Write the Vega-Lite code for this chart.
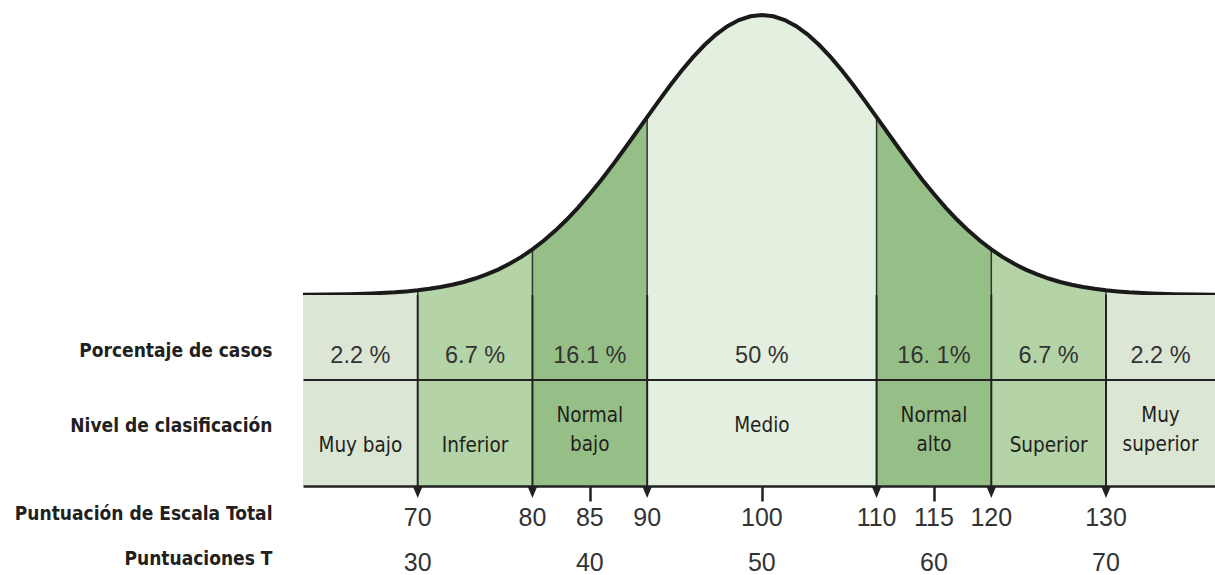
{
  "$schema": "https://vega.github.io/schema/vega-lite/v6.json",
  "background": "white",
  "padding": {"left": 14, "top": 7, "right": 0, "bottom": 0},
  "autosize": {"type": "pad"},
  "spacing": 0,
  "bounds": "flush",
  "config": {"view": {"stroke": null}, "axis": {"grid": false}},
  "datasets": {
    "curve": [
      {"band": "Muy bajo", "x": 60, "h": 0.0007}, {"band": "Muy bajo", "x": 62, "h": 0.0014}, {"band": "Muy bajo", "x": 64, "h": 0.0028}, {"band": "Muy bajo", "x": 66, "h": 0.0053}, {"band": "Muy bajo", "x": 68, "h": 0.0096}, {"band": "Muy bajo", "x": 69, "h": 0.0128}, {"band": "Muy bajo", "x": 70, "h": 0.0169},
      {"band": "Inferior", "x": 70, "h": 0.0169}, {"band": "Inferior", "x": 71, "h": 0.0221}, {"band": "Inferior", "x": 72, "h": 0.0286}, {"band": "Inferior", "x": 73, "h": 0.0367}, {"band": "Inferior", "x": 74, "h": 0.0466}, {"band": "Inferior", "x": 75, "h": 0.0588}, {"band": "Inferior", "x": 76, "h": 0.0734}, {"band": "Inferior", "x": 77, "h": 0.0908}, {"band": "Inferior", "x": 78, "h": 0.1114}, {"band": "Inferior", "x": 79, "h": 0.1353}, {"band": "Inferior", "x": 80, "h": 0.1630},
      {"band": "Normal bajo", "x": 80, "h": 0.1630}, {"band": "Normal bajo", "x": 81, "h": 0.1945}, {"band": "Normal bajo", "x": 82, "h": 0.2301}, {"band": "Normal bajo", "x": 83, "h": 0.2696}, {"band": "Normal bajo", "x": 84, "h": 0.3132}, {"band": "Normal bajo", "x": 85, "h": 0.3604}, {"band": "Normal bajo", "x": 86, "h": 0.4111}, {"band": "Normal bajo", "x": 87, "h": 0.4647}, {"band": "Normal bajo", "x": 88, "h": 0.5204}, {"band": "Normal bajo", "x": 89, "h": 0.5777}, {"band": "Normal bajo", "x": 90, "h": 0.6354},
      {"band": "Medio", "x": 90, "h": 0.6354}, {"band": "Medio", "x": 91, "h": 0.6926}, {"band": "Medio", "x": 92, "h": 0.7481}, {"band": "Medio", "x": 93, "h": 0.8007}, {"band": "Medio", "x": 94, "h": 0.8494}, {"band": "Medio", "x": 95, "h": 0.8928}, {"band": "Medio", "x": 96, "h": 0.9300}, {"band": "Medio", "x": 97, "h": 0.9600}, {"band": "Medio", "x": 98, "h": 0.9820}, {"band": "Medio", "x": 99, "h": 0.9955}, {"band": "Medio", "x": 100, "h": 1.0}, {"band": "Medio", "x": 101, "h": 0.9955}, {"band": "Medio", "x": 102, "h": 0.9820}, {"band": "Medio", "x": 103, "h": 0.9600}, {"band": "Medio", "x": 104, "h": 0.9300}, {"band": "Medio", "x": 105, "h": 0.8928}, {"band": "Medio", "x": 106, "h": 0.8494}, {"band": "Medio", "x": 107, "h": 0.8007}, {"band": "Medio", "x": 108, "h": 0.7481}, {"band": "Medio", "x": 109, "h": 0.6926}, {"band": "Medio", "x": 110, "h": 0.6354},
      {"band": "Normal alto", "x": 110, "h": 0.6354}, {"band": "Normal alto", "x": 111, "h": 0.5777}, {"band": "Normal alto", "x": 112, "h": 0.5204}, {"band": "Normal alto", "x": 113, "h": 0.4647}, {"band": "Normal alto", "x": 114, "h": 0.4111}, {"band": "Normal alto", "x": 115, "h": 0.3604}, {"band": "Normal alto", "x": 116, "h": 0.3132}, {"band": "Normal alto", "x": 117, "h": 0.2696}, {"band": "Normal alto", "x": 118, "h": 0.2301}, {"band": "Normal alto", "x": 119, "h": 0.1945}, {"band": "Normal alto", "x": 120, "h": 0.1630},
      {"band": "Superior", "x": 120, "h": 0.1630}, {"band": "Superior", "x": 121, "h": 0.1353}, {"band": "Superior", "x": 122, "h": 0.1114}, {"band": "Superior", "x": 123, "h": 0.0908}, {"band": "Superior", "x": 124, "h": 0.0734}, {"band": "Superior", "x": 125, "h": 0.0588}, {"band": "Superior", "x": 126, "h": 0.0466}, {"band": "Superior", "x": 127, "h": 0.0367}, {"band": "Superior", "x": 128, "h": 0.0286}, {"band": "Superior", "x": 129, "h": 0.0221}, {"band": "Superior", "x": 130, "h": 0.0169},
      {"band": "Muy superior", "x": 130, "h": 0.0169}, {"band": "Muy superior", "x": 131, "h": 0.0128}, {"band": "Muy superior", "x": 132, "h": 0.0096}, {"band": "Muy superior", "x": 134, "h": 0.0053}, {"band": "Muy superior", "x": 136, "h": 0.0028}, {"band": "Muy superior", "x": 138, "h": 0.0014}, {"band": "Muy superior", "x": 139.5, "h": 0.0009}
    ],
    "bounds": [
      {"x": 70, "h": 0.0169}, {"x": 80, "h": 0.1630}, {"x": 90, "h": 0.6354},
      {"x": 110, "h": 0.6354}, {"x": 120, "h": 0.1630}, {"x": 130, "h": 0.0169}
    ],
    "bands": [
      {"band": "Muy bajo", "x0": 60, "x1": 70, "mid": 65, "pct": "2.2 %", "level": "Muy bajo", "lines": 1},
      {"band": "Inferior", "x0": 70, "x1": 80, "mid": 75, "pct": "6.7 %", "level": "Inferior", "lines": 1},
      {"band": "Normal bajo", "x0": 80, "x1": 90, "mid": 85, "pct": "16.1 %", "level": "Normal\nbajo", "lines": 2},
      {"band": "Medio", "x0": 90, "x1": 110, "mid": 100, "pct": "50 %", "level": "Medio", "lines": 1},
      {"band": "Normal alto", "x0": 110, "x1": 120, "mid": 115, "pct": "16. 1%", "level": "Normal\nalto", "lines": 2},
      {"band": "Superior", "x0": 120, "x1": 130, "mid": 125, "pct": "6.7 %", "level": "Superior", "lines": 1},
      {"band": "Muy superior", "x0": 130, "x1": 139.5, "mid": 134.75, "pct": "2.2 %", "level": "Muy\nsuperior", "lines": 2}
    ],
    "scores": [
      {"row": "Puntuación de Escala Total", "x": 70, "label": "70"},
      {"row": "Puntuación de Escala Total", "x": 80, "label": "80"},
      {"row": "Puntuación de Escala Total", "x": 85, "label": "85"},
      {"row": "Puntuación de Escala Total", "x": 90, "label": "90"},
      {"row": "Puntuación de Escala Total", "x": 100, "label": "100"},
      {"row": "Puntuación de Escala Total", "x": 110, "label": "110"},
      {"row": "Puntuación de Escala Total", "x": 115, "label": "115"},
      {"row": "Puntuación de Escala Total", "x": 120, "label": "120"},
      {"row": "Puntuación de Escala Total", "x": 130, "label": "130"},
      {"row": "Puntuaciones T", "x": 70, "label": "30"},
      {"row": "Puntuaciones T", "x": 85, "label": "40"},
      {"row": "Puntuaciones T", "x": 100, "label": "50"},
      {"row": "Puntuaciones T", "x": 115, "label": "60"},
      {"row": "Puntuaciones T", "x": 130, "label": "70"}
    ]
  },
  "vconcat": [
    {
      "width": 912,
      "height": 280,
      "layer": [
        {
          "data": {"name": "curve"},
          "mark": {"type": "area", "stroke": null},
          "encoding": {
            "x": {"field": "x", "type": "quantitative", "scale": {"domain": [60, 139.5], "nice": false, "zero": false}, "axis": null},
            "y": {"field": "h", "type": "quantitative", "stack": null, "scale": {"domain": [0, 1], "nice": false}, "axis": null},
            "color": {"field": "band", "type": "nominal", "legend": null,
              "scale": {"domain": ["Muy bajo", "Inferior", "Normal bajo", "Medio", "Normal alto", "Superior", "Muy superior"],
                        "range": ["#dce6d5", "#b4d3a7", "#96bf87", "#e3efdf", "#96bf87", "#b4d3a7", "#dce6d5"]}}
          }
        },
        {
          "data": {"name": "bounds"},
          "mark": {"type": "rule", "color": "#333333", "strokeWidth": 1.5},
          "encoding": {
            "x": {"field": "x", "type": "quantitative", "axis": null},
            "y": {"field": "h", "type": "quantitative", "axis": null},
            "y2": {"datum": 0}
          }
        },
        {
          "data": {"name": "curve"},
          "mark": {"type": "line", "color": "#1a1a1a", "strokeWidth": 4},
          "encoding": {
            "x": {"field": "x", "type": "quantitative", "axis": null},
            "y": {"field": "h", "type": "quantitative", "axis": null}
          }
        }
      ]
    },
    {
      "width": 912,
      "height": 86,
      "data": {"name": "bands"},
      "layer": [
        {
          "mark": {"type": "rect"},
          "encoding": {
            "x": {"field": "x0", "type": "quantitative", "scale": {"domain": [60, 139.5], "nice": false, "zero": false},
                  "axis": {"title": null, "ticks": false, "labels": false, "domain": true, "domainWidth": 5, "domainColor": "#222222", "zindex": 1}},
            "x2": {"field": "x1"},
            "color": {"field": "band", "type": "nominal", "legend": null}
          }
        },
        {
          "data": {"name": "bounds"},
          "mark": {"type": "rule", "color": "#222222", "strokeWidth": 2},
          "encoding": {
            "x": {"field": "x", "type": "quantitative",
                  "axis": {"title": null, "ticks": false, "labels": false, "domain": true, "domainWidth": 5, "domainColor": "#222222", "zindex": 1}}
          }
        },
        {
          "mark": {"type": "text", "font": "Liberation Sans", "fontSize": 23.5, "color": "#333333", "baseline": "alphabetic", "dy": 25},
          "encoding": {
            "x": {"field": "mid", "type": "quantitative",
                  "axis": {"title": null, "ticks": false, "labels": false, "domain": true, "domainWidth": 5, "domainColor": "#222222", "zindex": 1}},
            "y": {"datum": "Porcentaje de casos", "type": "nominal",
                  "axis": {"title": null, "ticks": false, "tickSize": 0, "domain": false, "labelPadding": 31, "labelOffset": 12, "labelLimit": 400,
                           "labelFont": "DejaVu Sans Condensed", "labelFontWeight": "bold", "labelFontSize": 19, "labelColor": "#231f20"}},
            "text": {"field": "pct"}
          }
        }
      ]
    },
    {
      "width": 912,
      "height": 105,
      "data": {"name": "bands"},
      "layer": [
        {
          "mark": {"type": "rect"},
          "encoding": {
            "x": {"field": "x0", "type": "quantitative", "scale": {"domain": [60, 139.5], "nice": false, "zero": false},
                  "axis": {"title": null, "values": [85, 100, 115], "ticks": true, "tickSize": 15, "tickWidth": 2.5, "tickColor": "#222222", "labels": false, "domain": true, "domainWidth": 2.5, "domainColor": "#222222", "zindex": 1}},
            "x2": {"field": "x1"},
            "color": {"field": "band", "type": "nominal", "legend": null}
          }
        },
        {
          "data": {"name": "bounds"},
          "mark": {"type": "rule", "color": "#222222", "strokeWidth": 2},
          "encoding": {
            "x": {"field": "x", "type": "quantitative",
                  "axis": {"title": null, "values": [85, 100, 115], "ticks": true, "tickSize": 15, "tickWidth": 2.5, "tickColor": "#222222", "labels": false, "domain": true, "domainWidth": 2.5, "domainColor": "#222222", "zindex": 1}}
          }
        },
        {
          "data": {"name": "bounds"},
          "mark": {"type": "point", "shape": "M-1,-1.2L1,-1.2L0,1.2Z", "size": 100, "filled": true, "color": "#222222", "opacity": 1, "yOffset": 58.5},
          "encoding": {
            "x": {"field": "x", "type": "quantitative",
                  "axis": {"title": null, "values": [85, 100, 115], "ticks": true, "tickSize": 15, "tickWidth": 2.5, "tickColor": "#222222", "labels": false, "domain": true, "domainWidth": 2.5, "domainColor": "#222222", "zindex": 1}}
          }
        },
        {
          "transform": [{"filter": "datum.band !== 'Medio' && datum.lines === 1"}],
          "mark": {"type": "text", "font": "DejaVu Sans Condensed", "fontSize": 20.5, "color": "#231f20", "baseline": "bottom", "dy": 22.5},
          "encoding": {
            "x": {"field": "mid", "type": "quantitative",
                  "axis": {"title": null, "values": [85, 100, 115], "ticks": true, "tickSize": 15, "tickWidth": 2.5, "tickColor": "#222222", "labels": false, "domain": true, "domainWidth": 2.5, "domainColor": "#222222", "zindex": 1}},
            "y": {"datum": "Nivel de clasificación", "type": "nominal",
                  "axis": {"title": null, "ticks": false, "tickSize": 0, "domain": false, "labelPadding": 31, "labelOffset": -8.5, "labelLimit": 400,
                           "labelFont": "DejaVu Sans Condensed", "labelFontWeight": "bold", "labelFontSize": 19, "labelColor": "#231f20"}},
            "text": {"field": "level"}
          }
        },
        {
          "transform": [{"filter": "datum.lines === 2"}],
          "mark": {"type": "text", "font": "DejaVu Sans Condensed", "fontSize": 20.5, "color": "#231f20", "baseline": "bottom", "dy": -7.5, "lineBreak": "\n", "lineHeight": 28.5},
          "encoding": {
            "x": {"field": "mid", "type": "quantitative",
                  "axis": {"title": null, "values": [85, 100, 115], "ticks": true, "tickSize": 15, "tickWidth": 2.5, "tickColor": "#222222", "labels": false, "domain": true, "domainWidth": 2.5, "domainColor": "#222222", "zindex": 1}},
            "y": {"datum": "Nivel de clasificación", "type": "nominal"},
            "text": {"field": "level"}
          }
        },
        {
          "transform": [{"filter": "datum.band === 'Medio'"}],
          "mark": {"type": "text", "font": "DejaVu Sans Condensed", "fontSize": 20.5, "color": "#231f20", "baseline": "alphabetic", "dy": -2},
          "encoding": {
            "x": {"field": "mid", "type": "quantitative",
                  "axis": {"title": null, "values": [85, 100, 115], "ticks": true, "tickSize": 15, "tickWidth": 2.5, "tickColor": "#222222", "labels": false, "domain": true, "domainWidth": 2.5, "domainColor": "#222222", "zindex": 1}},
            "y": {"datum": "Nivel de clasificación", "type": "nominal"},
            "text": {"field": "level"}
          }
        }
      ]
    },
    {
      "width": 912,
      "height": 90,
      "data": {"name": "scores"},
      "mark": {"type": "text", "font": "Liberation Sans", "fontSize": 25, "color": "#333333", "baseline": "alphabetic", "dy": 17.5},
      "encoding": {
        "x": {"field": "x", "type": "quantitative", "scale": {"domain": [60, 139.5], "nice": false, "zero": false}, "axis": null},
        "y": {"field": "row", "type": "nominal", "sort": ["Puntuación de Escala Total", "Puntuaciones T"],
              "axis": {"title": null, "ticks": false, "tickSize": 0, "domain": false, "labelPadding": 31, "labelOffset": 5, "labelLimit": 400,
                       "labelFont": "DejaVu Sans Condensed", "labelFontWeight": "bold", "labelFontSize": 19, "labelColor": "#231f20"}},
        "text": {"field": "label"}
      }
    }
  ]
}
